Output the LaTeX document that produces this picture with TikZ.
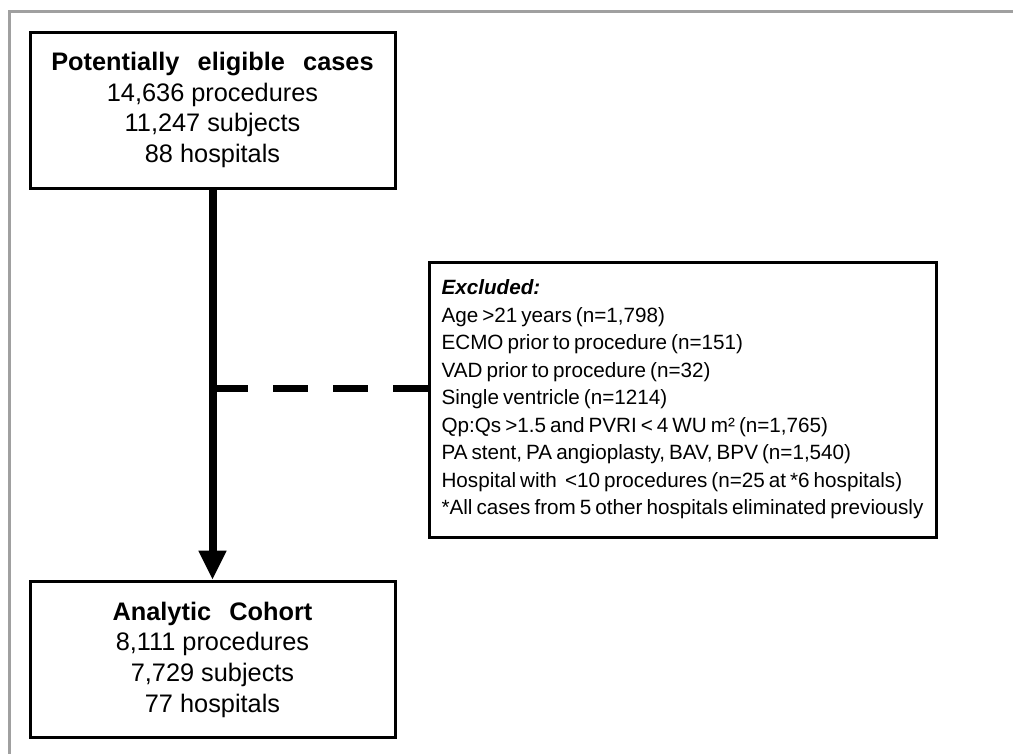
\documentclass[tikz,border=0pt]{standalone}
\usepackage{fontspec}
\setmainfont{Liberation Sans}
\newfontfamily\exfont[WordSpace=0.7]{Liberation Sans}
\usetikzlibrary{arrows.meta}
\definecolor{framegray}{RGB}{160,160,160}
\tikzset{
  box/.style={draw=black, line width=2.25pt, fill=white, minimum width=365*0.75pt, minimum height=156*0.75pt, align=center, inner sep=0pt,
    font=\fontsize{19}{23}\selectfont},
  exbox/.style={draw=black, line width=2.25pt, fill=white, minimum width=507*0.75pt, minimum height=275*0.75pt, inner sep=0pt,
    align=left, font=\exfont\fontsize{15.5}{20.6}\selectfont},
  mainline/.style={line width=6pt, black},
  dashline/.style={line width=5.25pt, black, dash pattern=on 26.25pt off 18.75pt},
  frame/.style={line width=2.25pt, framegray}
}
\newcommand{\wsp}{\hspace{0.72em}}
\begin{document}
\begin{tikzpicture}[x=0.75pt,y=-0.75pt]
\useasboundingbox (0,0) rectangle (1013,754);
\draw[frame] (1013,11) -- (9.5,11) -- (9.5,754);
\node[box] (top) at (212.5,110) {\textbf{Potentially\wsp eligible\wsp cases}\\14,636 procedures\\11,247 subjects\\88 hospitals};
\node[box] (bot) at (212.5,659.5) {\textbf{Analytic\wsp Cohort}\\8,111 procedures\\7,729 subjects\\77 hospitals};
\node[exbox] (excl) at (682.5,399.5) {\textbf{\textit{Excluded:}}\\
Age >21 years (n=1,798)\\
ECMO prior to procedure (n=151)\\
VAD prior to procedure (n=32)\\
Single ventricle (n=1214)\\
Qp:Qs >1.5 and PVRI < 4 WU m² (n=1,765)\\
PA stent, PA angioplasty, BAV, BPV (n=1,540)\\
Hospital with \ <10 procedures (n=25 at *6 hospitals)\\
\relax *All cases from 5 other hospitals eliminated previously};
\coordinate (j) at (213,388);
\draw[dashline] (j) -- (excl.west |- j);
\draw[mainline, -{Triangle[length=22pt,width=19.5pt]}] (top.south) -- (bot.north);
\end{tikzpicture}
\end{document}
